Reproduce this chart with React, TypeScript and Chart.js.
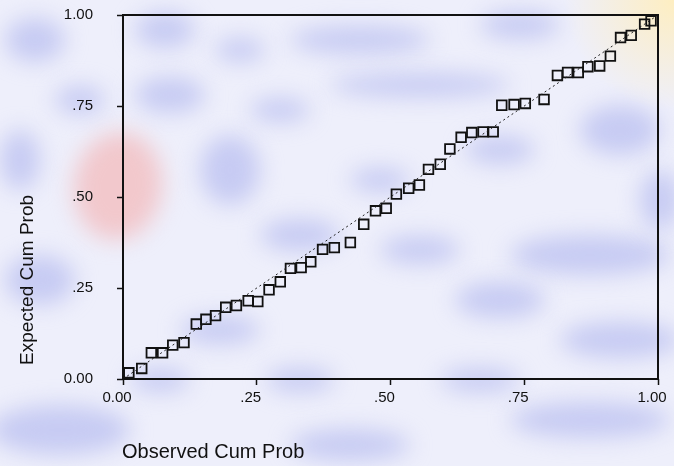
import React, { useEffect, useRef } from "react";
import { Chart, registerables } from "chart.js";

Chart.register(...registerables);

// ---- data ----
const observedCumProb = [
  0.011, 0.035, 0.053, 0.074, 0.093, 0.114, 0.137, 0.155, 0.173, 0.192, 0.212, 0.234,
  0.252, 0.273, 0.294, 0.313, 0.333, 0.351, 0.373, 0.395, 0.425, 0.45, 0.472, 0.492,
  0.511, 0.534, 0.554, 0.571, 0.593, 0.611, 0.632, 0.652, 0.673, 0.692, 0.708, 0.731,
  0.752, 0.787, 0.812, 0.831, 0.851, 0.869, 0.891, 0.911, 0.93, 0.95, 0.975, 0.987,
];
const expectedCumProb = [
  0.017, 0.029, 0.072, 0.072, 0.093, 0.1, 0.151, 0.164, 0.174, 0.197, 0.202, 0.215,
  0.213, 0.245, 0.267, 0.304, 0.306, 0.322, 0.356, 0.361, 0.375, 0.425, 0.462, 0.469,
  0.508, 0.524, 0.533, 0.576, 0.59, 0.632, 0.664, 0.677, 0.679, 0.679, 0.752, 0.754,
  0.757, 0.768, 0.834, 0.842, 0.842, 0.858, 0.86, 0.887, 0.938, 0.944, 0.975, 0.984,
];
const referenceLine = [0, 1];
const xTickLabels = ["0.00", ".25", ".50", ".75", "1.00"];
const yTickLabels = ["0.00", ".25", ".50", ".75", "1.00"];
const xTitle = "Observed Cum Prob";
const yTitle = "Expected Cum Prob";

// ---- background decoration (style only) ----
const lavender = "rgba(182,188,240,0.7)";
const blobs: [number, number, number, number, string][] = [
  [35, 40, 30, 22, lavender],
  [165, 30, 30, 18, lavender],
  [360, 40, 70, 14, lavender],
  [520, 25, 40, 14, lavender],
  [170, 95, 35, 18, lavender],
  [420, 85, 90, 12, lavender],
  [620, 130, 40, 25, lavender],
  [230, 170, 30, 35, lavender],
  [300, 235, 40, 16, lavender],
  [590, 255, 80, 20, lavender],
  [500, 300, 45, 18, lavender],
  [620, 340, 60, 18, lavender],
  [40, 280, 35, 25, lavender],
  [60, 430, 70, 25, lavender],
  [350, 445, 60, 16, lavender],
  [590, 420, 80, 18, lavender],
  [220, 330, 40, 14, lavender],
  [420, 250, 40, 14, lavender],
  [480, 380, 40, 12, lavender],
  [20, 160, 20, 30, lavender],
  [280, 110, 30, 12, lavender],
  [500, 150, 35, 14, lavender],
  [380, 180, 30, 12, lavender],
  [160, 380, 30, 12, lavender],
  [300, 380, 35, 12, lavender],
  [660, 200, 20, 30, lavender],
  [240, 50, 25, 12, lavender],
  [80, 100, 25, 14, lavender],
];

const bgPlugin = {
  id: "bg",
  beforeDraw(chart: any) {
    const ctx = chart.ctx;
    const w = chart.width;
    const h = chart.height;
    ctx.save();
    ctx.fillStyle = "#eeeffb";
    ctx.fillRect(0, 0, w, h);
    ctx.filter = "blur(11px)";
    for (const [cx, cy, rx, ry, c] of blobs) {
      ctx.fillStyle = c;
      ctx.beginPath();
      ctx.ellipse(cx, cy, rx, ry, 0, 0, Math.PI * 2);
      ctx.fill();
    }
    ctx.fillStyle = "rgba(242,190,192,0.8)";
    ctx.beginPath();
    ctx.ellipse(118, 186, 44, 54, 0.15, 0, Math.PI * 2);
    ctx.fill();
    ctx.filter = "none";
    const g = ctx.createRadialGradient(674, 0, 0, 674, 0, 110);
    g.addColorStop(0, "rgba(255,238,190,0.95)");
    g.addColorStop(1, "rgba(255,238,190,0)");
    ctx.fillStyle = g;
    ctx.fillRect(540, 0, 134, 130);
    ctx.restore();
  },
};

const framePlugin = {
  id: "frame",
  afterDatasetsDraw(chart: any) {
    const { ctx, chartArea } = chart;
    ctx.save();
    ctx.strokeStyle = "#111";
    ctx.lineWidth = 2;
    ctx.strokeRect(chartArea.left, chartArea.top, chartArea.right - chartArea.left, chartArea.bottom - chartArea.top);
    ctx.restore();
  },
  afterDraw(chart: any) {
    const ctx = chart.ctx;
    ctx.save();
    ctx.fillStyle = "#111";
    ctx.font = '20px "Liberation Sans", Arial, sans-serif';
    ctx.textAlign = "left";
    ctx.textBaseline = "alphabetic";
    ctx.fillText(xTitle, 122, 458);
    ctx.translate(33, 280);
    ctx.rotate(-Math.PI / 2);
    ctx.font = '19px "Liberation Sans", Arial, sans-serif';
    ctx.textAlign = "center";
    ctx.fillText(yTitle, 0, 0);
    ctx.restore();
  },
};

export default function App() {
  const ref = useRef<HTMLCanvasElement | null>(null);

  useEffect(() => {
    if (!ref.current) return;
    const points = observedCumProb.map((x, i) => ({ x, y: expectedCumProb[i] }));
    const line = referenceLine.map((v) => ({ x: v, y: v }));
    const tickFont = { family: '"Liberation Sans", Arial, sans-serif', size: 15 };
    const chart = new Chart(ref.current, {
      type: "scatter",
      data: {
        datasets: [
          {
            type: "line",
            data: line,
            borderColor: "#222",
            borderWidth: 1,
            borderDash: [2, 3],
            pointRadius: 0,
            fill: false,
          } as any,
          {
            data: points,
            pointStyle: "rect",
            pointRadius: 6.8,
            pointBorderWidth: 1.8,
            borderColor: "#111",
            backgroundColor: "rgba(0,0,0,0)",
          } as any,
        ],
      },
      plugins: [bgPlugin, framePlugin],
      options: {
        responsive: false,
        animation: false,
        events: [],
        layout: { padding: { left: 0, top: 15, right: 16, bottom: 0 } },
        plugins: { legend: { display: false }, tooltip: { enabled: false } },
        scales: {
          x: {
            type: "linear",
            min: 0,
            max: 1,
            border: { display: false },
            grid: { drawOnChartArea: false, color: "rgba(0,0,0,0)", tickColor: "#111", tickLength: 6, tickWidth: 1.5 },
            ticks: {
              stepSize: 0.25,
              color: "#111",
              font: tickFont,
              padding: 4,
              maxRotation: 0,
              labelOffset: -6,
              callback: (_v: any, i: number) => xTickLabels[i],
            },
            afterFit: (s: any) => {
              s.height = 466 - 379;
              s.paddingLeft = 0;
              s.paddingRight = 0;
            },
          },
          y: {
            type: "linear",
            min: 0,
            max: 1,
            border: { display: false },
            grid: { drawOnChartArea: false, color: "rgba(0,0,0,0)", tickColor: "#111", tickLength: 6, tickWidth: 1.5 },
            ticks: {
              stepSize: 0.25,
              color: "#111",
              font: tickFont,
              padding: 24,
              callback: (_v: any, i: number) => yTickLabels[i],
            },
            afterFit: (s: any) => {
              s.width = 123;
              s.paddingTop = 0;
              s.paddingBottom = 0;
            },
          },
        },
      },
    });
    return () => chart.destroy();
  }, []);

  return (
    <div style={{ position: "fixed", left: 0, top: 0, width: 674, height: 466 }}>
      <canvas ref={ref} width={674} height={466} style={{ display: "block" }} />
    </div>
  );
}
